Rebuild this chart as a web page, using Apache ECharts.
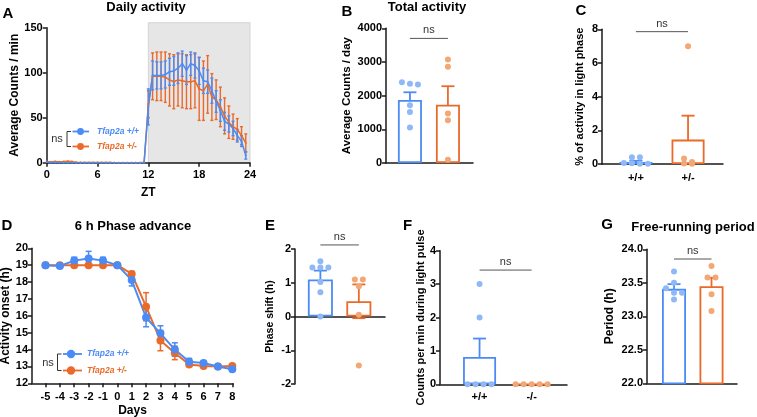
<!DOCTYPE html>
<html><head><meta charset="utf-8">
<script src="https://cdn.jsdelivr.net/npm/echarts@6/dist/echarts.min.js"></script>
<style>html,body{margin:0;padding:0;background:#fff}#c{width:757px;height:417px}</style>
</head><body><div id="c"></div>
<script>
const FONT='"Liberation Sans", Arial, Helvetica, sans-serif';
const BLUE='#4b8bf5', ORANGE='#ea6a2a', BLUE_DOT='#8fb8f7', ORANGE_DOT='#f2a774';

// ---- Panel A: daily activity ----
const ztHours=[0,0.5,1,1.5,2,2.5,3,3.5,4,4.5,5,5.5,6,6.5,7,7.5,8,8.5,9,9.5,10,10.5,11,11.5,12,12.5,13,13.5,14,14.5,15,15.5,16,16.5,17,17.5,18,18.5,19,19.5,20,20.5,21,21.5,22,22.5,23,23.5];
const actWT=[1.5,0.2,0.1,0.1,0,0,0,0,0,0,0,0,0,0,0,0,0,0,0,0,0,0,0,0,62,97,97,97,98,101,102,105,110,103,110,108,102,91,90,80,68,58,46,43,38,30,24,8];
const actWTsem=[0,0,0,0,0,0,0,0,0,0,0,0,0,0,0,0,0,0,0,0,0,0,0,0,20,16,15,15,15,15,16,17,14,16,13,14,15,14,13,14,12,12,10,9,8,7,6,4];
const actHet=[0.5,1,1.2,1,1.2,1.5,1.2,0.5,0.3,0.2,0.2,0.1,0.1,0.1,0.1,0.1,0,0,0,0,0,0,0,0.5,65,96,96,96,95,92,90,92,91,90,90,91,82,80,87,73,70,62,52,45,40,37,30,22];
const actHetsem=[0,0,0,0,0,0,0,0,0,0,0,0,0,0,0,0,0,0,0,0,0,0,0,0,15,26,27,27,28,29,30,29,30,30,30,30,35,33,32,26,22,22,20,18,14,12,10,10];
const darkPhase=[12,24];

// ---- Panel B: total activity ----
const totWT=[2400,2333,2352,1717,1518,1052];
const totHet=[3077,2858,1469,1270,99];
const totMean=[1870,1730], totSem=[230,550];

// ---- Panel C: % activity in light phase ----
const lightWT=[0.4,0.4,0.06,0.04,0.02,0.01];
const lightHet=[7.0,0.33,0.12,0.03,0.02];
const lightMean=[0.12,1.45], lightSem=[0.07,1.42];
const genoLabelsC=['+/+','+/-'];

// ---- Panel D: 6 h phase advance ----
const days=[-5,-4,-3,-2,-1,0,1,2,3,4,5,6,7,8];
const onsetWT=[19,18.95,19.27,19.4,19.27,19,18.12,15.9,14.96,14.0,13.28,13.2,13.0,12.83];
const onsetWTsem=[0.03,0.05,0.2,0.42,0.2,0.03,0.35,0.55,0.45,0.4,0.2,0.1,0.05,0.1];
const onsetHet=[19,19,19,19,19,19,18.48,16.54,14.53,13.8,13.12,13.02,13.0,13.02];
const onsetHetsem=[0.03,0.03,0.03,0.03,0.03,0.03,0.15,0.83,0.6,0.4,0.1,0.05,0.05,0.05];

// ---- Panel E: phase shift ----
const shiftWT=[1.64,1.45,1.45,1.45,1.02,0.72,0];
const shiftHet=[1.1,1.1,0.9,0.05,-1.45];
const shiftMean=[1.1,0.45], shiftSem=[0.26,0.5];

// ---- Panel F: counts during light pulse ----
const pulseWT=[3,2,0,0,0,0];
const pulseHet=[0,0,0,0,0];
const pulseMean=[0.82,0], pulseSem=[0.55,0];
const genoLabelsF=['+/+','-/-'];

// ---- Panel G: free-running period ----
const periodWT=[23.67,23.5,23.42,23.35,23.35,23.25];
const periodHet=[23.75,23.58,23.58,23.33,23.08];
const periodMean=[23.41,23.45], periodSem=[0.07,0.125];

const legendNames=['Tfap2a +/+','Tfap2a +/-'];

// ---------- layout ----------
const GR=[
 {left:46.7,top:27.7,width:203.3,height:135},   //0 A
 {left:46.7,top:22.7,width:203.3,height:140},   //1 A shade
 {left:386,top:28.3,width:87,height:134.7},     //2 B
 {left:602,top:29.3,width:121,height:134.7},    //3 C
 {left:32,top:248.3,width:201,height:135},      //4 D
 {left:295,top:249,width:90,height:135},        //5 E
 {left:440,top:250.7,width:127,height:133.6},   //6 F
 {left:647,top:249.3,width:90,height:134}       //7 G
];
const AXL={color:'#1a1a1a',width:1.5};
const TL={color:'#000',fontFamily:FONT,fontWeight:'bold',fontSize:11,margin:4};
const plain=v=>String(v);

function yAx(gi,min,max,interval,name,nameGap,nameSize,fmt){
  return {type:'value',gridIndex:gi,min,max,interval,name,nameLocation:'middle',nameRotate:90,nameGap,
    nameTextStyle:{fontFamily:FONT,fontWeight:'bold',fontSize:nameSize,color:'#000'},
    axisLine:{show:true,onZero:false,lineStyle:AXL},axisTick:{show:true,length:4,lineStyle:AXL},
    axisLabel:Object.assign({},TL,{formatter:fmt||plain}),splitLine:{show:false}};
}
function xCat(gi,min,max,labels,margin){
  return {type:'value',gridIndex:gi,min,max,axisLine:{show:true,lineStyle:AXL},axisTick:{show:false},splitLine:{show:false},
    axisLabel:labels?Object.assign({},TL,{margin,customValues:[0,1],formatter:v=>labels[Math.round(v)]}):{show:false}};
}
function errItem(color,cap,lw){
  return function(p,api){
    const x=api.value(0),lo=api.value(1),hi=api.value(2);
    const a=api.coord([x,lo]),b=api.coord([x,hi]);
    const st={stroke:color,lineWidth:lw};
    return {type:'group',children:[
      {type:'line',shape:{x1:a[0],y1:a[1],x2:b[0],y2:b[1]},style:st},
      {type:'line',shape:{x1:a[0]-cap/2,y1:a[1],x2:a[0]+cap/2,y2:a[1]},style:st},
      {type:'line',shape:{x1:b[0]-cap/2,y1:b[1],x2:b[0]+cap/2,y2:b[1]},style:st}]};
  };
}
function errSeries(ai,xs,means,sems,color,cap,lw){
  const data=[];
  xs.forEach((x,i)=>{ if(sems[i]>0) data.push([x,means[i]-sems[i],means[i]+sems[i]]); });
  return {type:'custom',xAxisIndex:ai,yAxisIndex:ai,data,renderItem:errItem(color,cap,lw),encode:{x:0,y:[1,2]},silent:true};
}
function nsSeries(ai,x1,x2,y){
  return {type:'custom',xAxisIndex:ai,yAxisIndex:ai,data:[[x1,x2,y]],encode:{x:[0,1],y:2},silent:true,
    renderItem:(p,api)=>{
      const a=api.coord([api.value(0),api.value(2)]),b=api.coord([api.value(1),api.value(2)]);
      return {type:'group',children:[
        {type:'line',shape:{x1:a[0],y1:a[1],x2:b[0],y2:a[1]},style:{stroke:'#555',lineWidth:1}},
        {type:'text',x:(a[0]+b[0])/2,y:a[1]-8,style:{text:'ns',fill:'#333',fontFamily:FONT,fontSize:11,align:'center',verticalAlign:'middle'}}]};
    }};
}
// spread overlapping dots side-by-side (beeswarm-like)
function swarm(vals,center,ai,tolPx,stepPx,xr,yr){
  const g=GR[ai];
  const tol=tolPx*(yr[1]-yr[0])/g.height, step=stepPx*(xr[1]-xr[0])/g.width;
  const sorted=vals.slice().sort((a,b)=>b-a);
  const out=[];let cl=[];
  const flush=()=>{const n=cl.length;cl.forEach((v,k)=>out.push([center+(k-(n-1)/2)*step,v]));cl=[];};
  sorted.forEach(v=>{if(cl.length&&cl[0]-v>tol)flush();cl.push(v);});
  flush();return out;
}
function barPanel(ai,xr,yr,means,sems,wt,het,barW,nsY){
  return [
    {type:'bar',xAxisIndex:ai,yAxisIndex:ai,barWidth:barW,silent:true,
      data:[{value:[0,means[0]],itemStyle:{color:'#fff',borderColor:BLUE,borderWidth:1.8}},
            {value:[1,means[1]],itemStyle:{color:'#fff',borderColor:ORANGE,borderWidth:1.8}}]},
    {type:'scatter',xAxisIndex:ai,yAxisIndex:ai,symbolSize:6,itemStyle:{color:BLUE_DOT,opacity:1},data:swarm(wt,0,ai,5,8,xr,yr),silent:true},
    {type:'scatter',xAxisIndex:ai,yAxisIndex:ai,symbolSize:6,itemStyle:{color:ORANGE_DOT,opacity:1},data:swarm(het,1,ai,5,8,xr,yr),silent:true},
    errSeries(ai,[0],[means[0]],[sems[0]],BLUE,13,1.8),
    errSeries(ai,[1],[means[1]],[sems[1]],ORANGE,13,1.8),
    nsSeries(ai,0,1,nsY)
  ];
}

const XR={B:[-0.63,1.66],C:[-0.65,1.67],E:[-0.66,1.68],F:[-0.76,1.68],G:[-0.72,1.68]};
const YR={B:[0,4000],C:[0,8],E:[-2,2],F:[0,4],G:[22,24]};

const xAxes=[
  {type:'value',gridIndex:0,min:0,max:24,interval:6,name:'ZT',nameLocation:'middle',nameGap:24,
   nameTextStyle:{fontFamily:FONT,fontWeight:'bold',fontSize:12,color:'#000'},
   axisLine:{show:true,lineStyle:AXL},axisTick:{show:true,length:4,lineStyle:AXL},axisLabel:Object.assign({},TL,{margin:7}),splitLine:{show:false}},
  {type:'value',gridIndex:1,min:0,max:24,show:false},
  xCat(2,XR.B[0],XR.B[1],null),
  xCat(3,XR.C[0],XR.C[1],genoLabelsC,8),
  {type:'value',gridIndex:4,min:-5.94,max:8.05,name:'Days',nameLocation:'middle',nameGap:21,
   nameTextStyle:{fontFamily:FONT,fontWeight:'bold',fontSize:12,color:'#000'},
   axisLine:{show:true,lineStyle:AXL},axisTick:{show:true,length:4,lineStyle:AXL,customValues:days},
   axisLabel:Object.assign({},TL,{margin:8,customValues:days}),splitLine:{show:false}},
  xCat(5,XR.E[0],XR.E[1],null),
  xCat(6,XR.F[0],XR.F[1],genoLabelsF,7),
  xCat(7,XR.G[0],XR.G[1],null)
];
const yAxes=[
  yAx(0,0,150,50,'Average Counts / min',25,12),
  {type:'value',gridIndex:1,min:0,max:1,show:false},
  yAx(2,0,4000,1000,'Average Counts / day',33,11.5),
  yAx(3,0,8,2,'% of activity in light phase',17,11),
  yAx(4,12,20,1,'Activity onset (h)',19,12),
  yAx(5,-2,2,1,'Phase shift (h)',19,10.5),
  yAx(6,0,4,1,'Counts per min during light pulse',12,11),
  yAx(7,22,24,0.5,'Period (h)',31,12,v=>v.toFixed(1))
];

const series=[
  {type:'custom',xAxisIndex:1,yAxisIndex:1,data:[[darkPhase[0],darkPhase[1]]],encode:{x:[0,1]},silent:true,z:-1,
   renderItem:(p,api)=>{const a=api.coord([api.value(0),1]),b=api.coord([api.value(1),0]);
     return {type:'rect',shape:{x:a[0],y:a[1],width:b[0]-a[0],height:b[1]-a[1]},style:{fill:'#e6e6e6',stroke:'#d4d4d4',lineWidth:1}};}},
  errSeries(0,ztHours,actHet,actHetsem,ORANGE,3,1.4),
  {type:'line',xAxisIndex:0,yAxisIndex:0,data:ztHours.map((x,i)=>[x,actHet[i]]),symbol:'circle',symbolSize:2,
   lineStyle:{color:ORANGE,width:1.5},itemStyle:{color:ORANGE},silent:true},
  errSeries(0,ztHours,actWT,actWTsem,BLUE,3,1.4),
  {type:'line',xAxisIndex:0,yAxisIndex:0,data:ztHours.map((x,i)=>[x,actWT[i]]),symbol:'circle',symbolSize:2,
   lineStyle:{color:BLUE,width:1.5},itemStyle:{color:BLUE},silent:true},
  ...barPanel(2,XR.B,YR.B,totMean,totSem,totWT,totHet,24,3700),
  ...barPanel(3,XR.C,YR.C,lightMean,lightSem,lightWT,lightHet,33,7.86),
  errSeries(4,days,onsetHet,onsetHetsem,ORANGE,6,1.5),
  {type:'line',xAxisIndex:4,yAxisIndex:4,data:days.map((x,i)=>[x,onsetHet[i]]),symbol:'circle',symbolSize:8,
   lineStyle:{color:ORANGE,width:2},itemStyle:{color:ORANGE},silent:true},
  errSeries(4,days,onsetWT,onsetWTsem,BLUE,6,1.5),
  {type:'line',xAxisIndex:4,yAxisIndex:4,data:days.map((x,i)=>[x,onsetWT[i]]),symbol:'circle',symbolSize:8,
   lineStyle:{color:BLUE,width:2},itemStyle:{color:BLUE},silent:true},
  ...barPanel(5,XR.E,YR.E,shiftMean,shiftSem,shiftWT,shiftHet,25,2.12),
  ...barPanel(6,XR.F,YR.F,pulseMean,pulseSem,pulseWT,pulseHet,33,3.42),
  ...barPanel(7,XR.G,YR.G,periodMean,periodSem,periodWT,periodHet,24,23.855)
];

function txt(x,y,text,font,fill,align){
  return {type:'text',x,y,silent:true,style:{text,font,fill:fill||'#000',align:align||'center',verticalAlign:'middle'}};
}
function legendBlock(nsX,nsY,brX,y1,y2,lx1,lx2,cx,r,tx,fs){
  const els=[txt(nsX,nsY,'ns','11px '+FONT,'#333'),
    {type:'polyline',silent:true,shape:{points:[[brX+4,y1],[brX,y1],[brX,y2],[brX+4,y2]]},style:{stroke:'#333',lineWidth:1,fill:null}}];
  [[y1,BLUE,legendNames[0]],[y2,ORANGE,legendNames[1]]].forEach(([y,c,n])=>{
    els.push({type:'line',silent:true,shape:{x1:lx1,y1:y,x2:lx2,y2:y},style:{stroke:c,lineWidth:1.8}});
    els.push({type:'circle',silent:true,shape:{cx,cy:y,r},style:{fill:c}});
    els.push(txt(tx,y,n,'italic bold '+fs+'px '+FONT,c,'left'));
  });
  return els;
}
const letters=[['A',8,13.5],['B',347,11.5],['C',581,11],['D',7,226],['E',270,226],['F',407.5,226],['G',607,225]];
const titles=[['Daily activity',146,7],['Total activity',427,7],['6 h Phase advance',133,226],['Free-running period',693,227]];
const graphic=[
  ...letters.map(l=>txt(l[1],l[2],l[0],'bold 15px '+FONT)),
  ...titles.map(t=>txt(t[1],t[2],t[0],'bold 13px '+FONT)),
  ...legendBlock(57,139,67,131.5,146.5,72.5,89,80.5,3.4,97,8.5),
  ...legendBlock(48,363,57.5,354,370.5,63,82,71,4.2,87,8.5)
];

const chart=echarts.init(document.getElementById('c'),null,{renderer:'canvas'});
chart.setOption({
  animation:false,
  textStyle:{fontFamily:FONT},
  grid:GR.map(g=>Object.assign({outerBoundsMode:'none',containLabel:false},g)),
  xAxis:xAxes,yAxis:yAxes,series,graphic
});
</script></body></html>
